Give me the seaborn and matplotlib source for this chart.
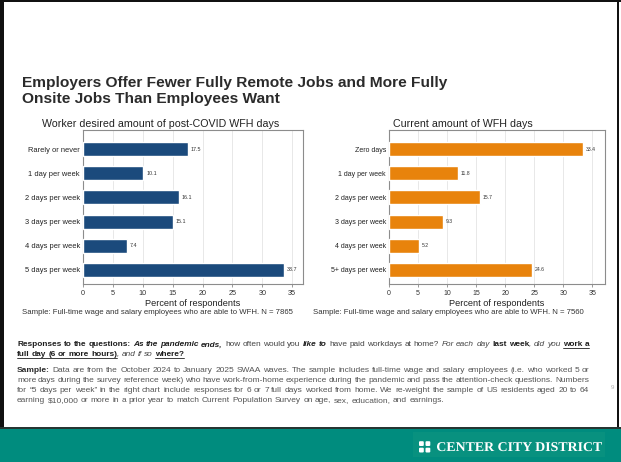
import re
import matplotlib
matplotlib.use("Agg")
import matplotlib.pyplot as plt
import seaborn as sns
import pandas as pd
from matplotlib.lines import Line2D
from matplotlib.patches import Rectangle, FancyBboxPatch, PathPatch
from matplotlib.textpath import TextPath
from matplotlib.font_manager import FontProperties
from matplotlib.transforms import Affine2D

W, H = 621, 462

# ---------------- data ----------------
title_lines = ["Employers Offer Fewer Fully Remote Jobs and More Fully",
               "Onsite Jobs Than Employees Want"]
left_title = "Worker desired amount of post-COVID WFH days"
right_title = "Current amount of WFH days"
desired_cats = ["Rarely or never", "1 day per week", "2 days per week",
                "3 days per week", "4 days per week", "5 days per week"]
desired_vals = [17.5, 10.1, 16.1, 15.1, 7.4, 33.7]
current_cats = ["Zero days", "1 day per week", "2 days per week",
                "3 days per week", "4 days per week", "5+ days per week"]
current_vals = [33.4, 11.8, 15.7, 9.3, 5.2, 24.6]
x_ticks = [0, 5, 10, 15, 20, 25, 30, 35]
x_label = "Percent of respondents"
left_note = "Sample: Full-time wage and salary employees who are able to WFH. N = 7865"
right_note = "Sample: Full-time wage and salary employees who are able to WFH. N = 7560"
brand = "CENTER CITY DISTRICT"
page_no = "9"

# (text, weight, style, underline)
responses_lines = [
    [("Responses to the questions: ", "bold", "normal", False),
     ("As the pandemic ends,", "bold", "italic", False),
     (" how often would you ", "normal", "normal", False),
     ("like to", "bold", "italic", False),
     (" have paid workdays at home? ", "normal", "normal", False),
     ("For each day ", "normal", "italic", False),
     ("last week", "bold", "normal", False),
     (", did you ", "normal", "italic", False),
     ("work a", "bold", "normal", True)],
    [("full day (6 or more hours)", "bold", "normal", True),
     (", and if so ", "normal", "italic", False),
     ("where?", "bold", "normal", True)],
]
sample_lines = [
    [("Sample:", "bold", "normal", False),
     (" Data are from the October 2024 to January 2025 SWAA waves. The sample includes "
      "full-time wage and salary employees (i.e. who worked 5 or", "normal", "normal", False)],
    [("more days during the survey reference week) who have work-from-home experience "
      "during the pandemic and pass the attention-check questions. Numbers", "normal", "normal", False)],
    [("for \u201c5 days per week\u201d in the right chart include responses for 6 or 7 full days "
      "worked from home. We re-weight the sample of US residents aged 20 to 64", "normal", "normal", False)],
    [("earning $10,000 or more in a prior year to match Current Population Survey on age, "
      "sex, education, and earnings.", "normal", "normal", False)],
]

NAVY = "#1b4a7c"
ORANGE = "#e8830c"
TEAL = "#008c7e"

sns.set_theme(style="white")
plt.rcParams["font.family"] = ["Liberation Sans", "DejaVu Sans"]

fig = plt.figure(figsize=(W / 100, H / 100), dpi=100)
fig.patch.set_facecolor("white")
renderer = fig.canvas.get_renderer()


def fx(x):
    return x / W


def fy(y):
    return 1 - y / H


def text_w(s, size, **kw):
    t = fig.text(0, 0, s, fontsize=size, parse_math=False, **kw)
    w = t.get_window_extent(renderer).width
    t.remove()
    return w


def fit_size(s, width, **kw):
    return 10 * width / text_w(s, 10, **kw)


def put(x, y, s, size, **kw):
    return fig.text(fx(x), fy(y), s, fontsize=size, parse_math=False, **kw)


def tokens(runs):
    out = []
    for text, wt, st, ul in runs:
        for tok in re.findall(r"\S+|\s+", text):
            out.append((tok, wt, st, ul, tok.isspace()))
    return out


def tok_widths(toks, size):
    ws = []
    for tok, wt, st, ul, sp in toks:
        if sp:
            w = (text_w("a" + tok + "a", size, fontweight=wt, fontstyle=st)
                 - text_w("aa", size, fontweight=wt, fontstyle=st))
        else:
            w = text_w(tok, size, fontweight=wt, fontstyle=st)
        ws.append(w)
    return ws


def draw_rich(x, y, runs, size, colors, target=None):
    toks = tokens(runs)
    ws = tok_widths(toks, size)
    nsp = sum(1 for t in toks if t[4])
    extra = 0
    if target is not None and nsp:
        extra = (target - sum(ws)) / nsp
    cur = x
    ul_start = None
    for (tok, wt, st, ul, sp), w in zip(toks, ws):
        if sp:
            w = w + extra
        else:
            col = colors[0] if wt == "bold" else colors[1]
            put(cur, y, tok, size, fontweight=wt, fontstyle=st, color=col,
                ha="left", va="baseline")
        if ul and ul_start is None:
            ul_start = cur
        if not ul and ul_start is not None:
            fig.add_artist(Line2D([fx(ul_start), fx(cur)], [fy(y + 1.5)] * 2,
                                  transform=fig.transFigure, color=colors[0], lw=0.6))
            ul_start = None
        cur += w
    if ul_start is not None:
        fig.add_artist(Line2D([fx(ul_start), fx(cur)], [fy(y + 1.5)] * 2,
                              transform=fig.transFigure, color=colors[0], lw=0.6))


def block_size(lines, target, justified_idx, factor=1.0):
    best = None
    for i in justified_idx:
        nat = sum(tok_widths(tokens(lines[i]), 10))
        s = 10 * target / nat
        best = s if best is None else min(best, s)
    return best * factor


# ---------------- frame / slide decorations ----------------
def rect(x0, y0, x1, y1, color, z=0):
    fig.add_artist(Rectangle((fx(x0), fy(y1)), (x1 - x0) / W, (y1 - y0) / H,
                             transform=fig.transFigure, facecolor=color,
                             edgecolor="none", zorder=z))


rect(0, 0, W, 2, "#111111")
rect(0, 0, 4, H, "#111111")
rect(617, 0, 619, 428, "#111111")
rect(0, 428, W, H, TEAL)
rect(0, 427, W, 429, "#263532")
rect(413, 432, 605, 457, "#08917f")

# logo
for dx, dy in [(0, 0), (6.5, 0), (0, 6.5), (6.5, 6.5)]:
    fig.add_artist(FancyBboxPatch((fx(419 + dx), fy(446 + dy)), 4.8 / W, 4.8 / H,
                                  boxstyle="round,pad=0,rounding_size=0.002",
                                  transform=fig.transFigure, facecolor="white",
                                  edgecolor="none", zorder=3))

# brand text as stretched path
fp = FontProperties(family="Liberation Serif", weight="bold")
tp = TextPath((0, 0), brand, size=10, prop=fp)
ext = tp.get_extents()
sx = (602 - 437) / ext.width
sy = 9.0 / TextPath((0, 0), "C", size=10, prop=fp).get_extents().height
tr = Affine2D().translate(-ext.x0, 0).scale(sx / W, sy / H).translate(fx(437), fy(451)) + fig.transFigure
fig.add_artist(PathPatch(tp, transform=tr, facecolor="white", edgecolor="none", zorder=4))

# ---------------- titles ----------------
ts = fit_size(title_lines[0], 426, fontweight="bold")
put(22, 87, title_lines[0], ts, fontweight="bold", color="#2b2b2b", va="baseline")
put(22, 102.5, title_lines[1], ts, fontweight="bold", color="#2b2b2b", va="baseline")

put(160.5, 127, left_title, fit_size(left_title, 235), color="#222222",
    ha="center", va="baseline")
put(462.5, 127, right_title, fit_size(right_title, 139), color="#222222",
    ha="center", va="baseline")


# ---------------- charts ----------------
def draw_chart(l, r, xmax, cats, vals, color, ytick_fs, xtick_fs, val_fs):
    t, b = 130, 284
    ax = fig.add_axes([fx(l), fy(b), (r - l) / W, (b - t) / H])
    df = pd.DataFrame({"cat": cats, "val": vals})
    sns.barplot(data=df, x="val", y="cat", orient="h", color=color, width=0.58,
                saturation=1, ax=ax, zorder=3)
    ax.set_xlim(0, xmax)
    ax.set_ylim(5.58, -0.79)
    ax.set_xticks(x_ticks)
    ax.set_xticklabels([str(v) for v in x_ticks])
    ax.grid(axis="x", color="#e4e4e4", lw=0.6)
    ax.grid(axis="y", visible=False)
    ax.set_axisbelow(True)
    for s in ax.spines.values():
        s.set_visible(True)
        s.set_color("#8c8c8c")
        s.set_linewidth(0.8)
    ax.tick_params(axis="x", bottom=True, length=2.2, width=0.6, color="#888888",
                   pad=2, labelsize=xtick_fs, labelcolor="#333333")
    ax.tick_params(axis="y", left=False, length=0, pad=2.2, labelsize=ytick_fs,
                   labelcolor="#222222")
    ax.set_ylabel("")
    ax.set_xlabel(x_label, fontsize=6.6, color="#222222")
    ax.xaxis.set_label_coords(0.5, -(303.5 - b) / (b - t))
    ax.xaxis.label.set_va("center")
    ax.bar_label(ax.containers[0], fmt="%.1f", padding=2, fontsize=val_fs,
                 color="#333333")
    return ax


draw_chart(83, 303, 36.8, desired_cats, desired_vals, NAVY, 5.4, 5.2, 3.9)
draw_chart(389, 605, 37.2, current_cats, current_vals, ORANGE, 5.0, 5.0, 3.7)

put(22, 314.5, left_note, fit_size(left_note, 271), color="#333333", va="baseline")
put(313, 314.5, right_note, fit_size(right_note, 271), color="#333333", va="baseline")

# ---------------- footnotes ----------------
X0, X1 = 17, 589
rs = block_size(responses_lines, X1 - X0, [0], 1.0)
draw_rich(X0, 346.5, responses_lines[0], rs, ("#1e1e1e", "#444444"), target=X1 - X0)
draw_rich(X0, 356.5, responses_lines[1], rs, ("#1e1e1e", "#444444"))

ss = block_size(sample_lines, X1 - X0, [0, 1, 2], 1.02)
for i, (line, yb) in enumerate(zip(sample_lines, [371.5, 382, 392, 402])):
    draw_rich(X0, yb, line, ss, ("#2a2a2a", "#555555"),
              target=(X1 - X0) if i < 3 else None)

put(612, 389, page_no, 4.5, color="#b0b0b0", ha="center", va="baseline")

fig.savefig("out.png", dpi=100, facecolor="white")
